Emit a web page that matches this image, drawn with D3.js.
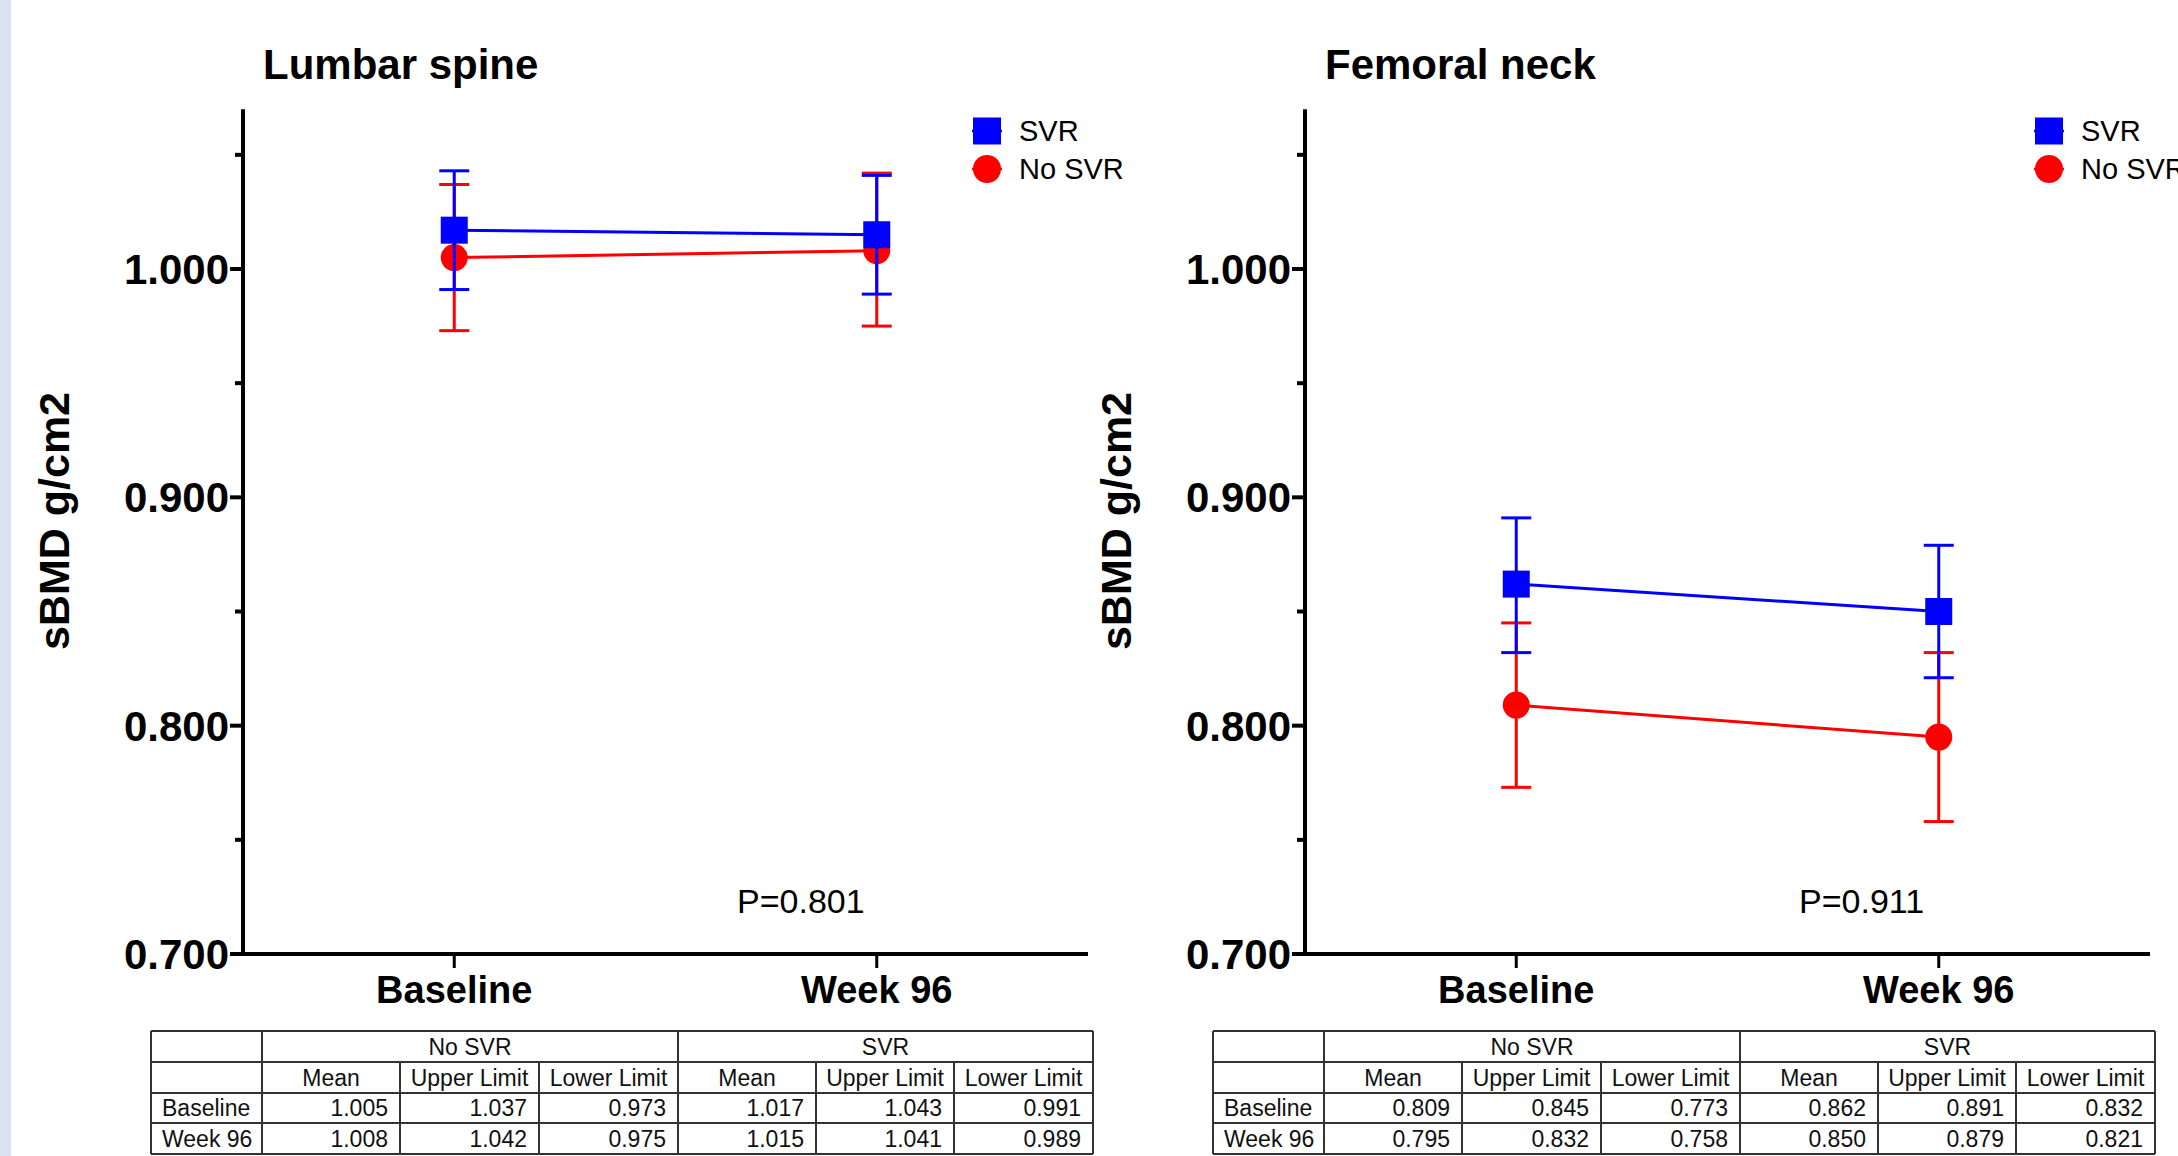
<!DOCTYPE html>
<html>
<head>
<meta charset="utf-8">
<script src="https://cdn.jsdelivr.net/npm/d3@7"></script>
<style>
  body { margin: 0; background: #fff; }
  svg { display: block; font-family: "Liberation Sans", Arial, sans-serif; }
</style>
</head>
<body>
<svg id="chart" width="2178" height="1156"></svg>
<script>
// data
const timepoints = ["Baseline", "Week 96"];
const panelTitles = ["Lumbar spine", "Femoral neck"];
const pValues = ["P=0.801", "P=0.911"];
const seriesNames = ["SVR", "No SVR"];

const spineNoSvrMean = [1.005, 1.008];
const spineNoSvrUpper = [1.037, 1.042];
const spineNoSvrLower = [0.973, 0.975];
const spineSvrMean = [1.017, 1.015];
const spineSvrUpper = [1.043, 1.041];
const spineSvrLower = [0.991, 0.989];

const neckNoSvrMean = [0.809, 0.795];
const neckNoSvrUpper = [0.845, 0.832];
const neckNoSvrLower = [0.773, 0.758];
const neckSvrMean = [0.862, 0.850];
const neckSvrUpper = [0.891, 0.879];
const neckSvrLower = [0.832, 0.821];

const majorTicks = [0.7, 0.8, 0.9, 1.0];
const minorTicks = [0.75, 0.85, 0.95, 1.05];
const tableHeads = ["Mean", "Upper Limit", "Lower Limit"];

const panels = [
	{ noSvr: [spineNoSvrMean, spineNoSvrUpper, spineNoSvrLower], svr: [spineSvrMean, spineSvrUpper, spineSvrLower] },
	{ noSvr: [neckNoSvrMean, neckNoSvrUpper, neckNoSvrLower], svr: [neckSvrMean, neckSvrUpper, neckSvrLower] }
];

const BLUE = "#0000ff", RED = "#ff0000";
const svg = d3.select("#chart");

svg.append("rect").attr("x", 0).attr("y", 0).attr("width", 11).attr("height", 1156).attr("fill", "#dbe3f3");

// scales shared by both panels (local coords of a panel)
const y = d3.scaleLinear().domain([0.7, 1.0]).range([954, 269]);
const x = d3.scalePoint().domain(timepoints).range([243, 1088]).padding(0.5);
const yTop = 1.07;
const fmt = d3.format(".3f");

const offsets = [0, 1062];

panels.forEach((p, pi) => {
	const g = svg.append("g").attr("transform", `translate(${offsets[pi]},0)`);

	g.append("text")
		.attr("x", 263).attr("y", 79)
		.attr("font-size", 42).attr("font-weight", "bold")
		.text(panelTitles[pi]);

	// y axis
	const yAxis = g.append("g").attr("transform", "translate(243,0)");
	yAxis.append("line")
		.attr("y1", y(yTop)).attr("y2", y(0.7) + 2)
		.attr("stroke", "#000").attr("stroke-width", 4);
	yAxis.selectAll(".major")
		.data(majorTicks).join("line")
		.attr("x1", -13).attr("x2", 0)
		.attr("y1", d => y(d)).attr("y2", d => y(d))
		.attr("stroke", "#000").attr("stroke-width", 4);
	yAxis.selectAll(".minor")
		.data(minorTicks).join("line")
		.attr("x1", -8).attr("x2", 0)
		.attr("y1", d => y(d)).attr("y2", d => y(d))
		.attr("stroke", "#000").attr("stroke-width", 4);
	yAxis.selectAll(".lbl")
		.data(majorTicks).join("text")
		.attr("x", -14).attr("y", d => y(d)).attr("dy", "0.36em")
		.attr("text-anchor", "end")
		.attr("font-size", 42).attr("font-weight", "bold")
		.text(d => fmt(d));

	g.append("text")
		.attr("transform", "translate(69,521) rotate(-90)")
		.attr("text-anchor", "middle")
		.attr("font-size", 43).attr("font-weight", "bold")
		.text("sBMD g/cm2");

	// x axis
	const xAxis = g.append("g").attr("transform", `translate(0,${y(0.7)})`);
	xAxis.append("line")
		.attr("x1", 241).attr("x2", 1088)
		.attr("stroke", "#000").attr("stroke-width", 4);
	xAxis.selectAll(".tick")
		.data(timepoints).join("line")
		.attr("x1", d => x(d)).attr("x2", d => x(d))
		.attr("y1", 0).attr("y2", 14)
		.attr("stroke", "#000").attr("stroke-width", 3);
	xAxis.selectAll(".lbl")
		.data(timepoints).join("text")
		.attr("x", d => x(d)).attr("y", 49)
		.attr("text-anchor", "middle")
		.attr("font-size", 38).attr("font-weight", "bold")
		.text(d => d);

	// series: red first, blue on top
	const series = [
		{ vals: p.noSvr, color: RED, shape: "circle" },
		{ vals: p.svr, color: BLUE, shape: "square" }
	];
	series.forEach(s => {
		const [mean, up, lo] = s.vals;
		const sg = g.append("g");
		const pts = timepoints.map((t, i) => ({ t, m: mean[i], u: up[i], l: lo[i] }));
		sg.selectAll(".eb").data(pts).join("line")
			.attr("x1", d => x(d.t)).attr("x2", d => x(d.t))
			.attr("y1", d => y(d.u)).attr("y2", d => y(d.l))
			.attr("stroke", s.color).attr("stroke-width", 3);
		sg.selectAll(".capU").data(pts).join("line")
			.attr("x1", d => x(d.t) - 15).attr("x2", d => x(d.t) + 15)
			.attr("y1", d => y(d.u)).attr("y2", d => y(d.u))
			.attr("stroke", s.color).attr("stroke-width", 3);
		sg.selectAll(".capL").data(pts).join("line")
			.attr("x1", d => x(d.t) - 15).attr("x2", d => x(d.t) + 15)
			.attr("y1", d => y(d.l)).attr("y2", d => y(d.l))
			.attr("stroke", s.color).attr("stroke-width", 3);
		sg.append("path")
			.datum(pts)
			.attr("d", d3.line().x(d => x(d.t)).y(d => y(d.m)))
			.attr("fill", "none").attr("stroke", s.color).attr("stroke-width", 3);
		if (s.shape === "square") {
			sg.selectAll(".mk").data(pts).join("rect")
				.attr("x", d => x(d.t) - 13.5).attr("y", d => y(d.m) - 13.5)
				.attr("width", 27).attr("height", 27)
				.attr("fill", s.color);
		} else {
			sg.selectAll(".mk").data(pts).join("circle")
				.attr("cx", d => x(d.t)).attr("cy", d => y(d.m))
				.attr("r", 13.5)
				.attr("fill", s.color);
		}
	});

	// legend
	const lg = g.append("g").attr("transform", "translate(987,131)");
	seriesNames.forEach((name, i) => {
		const ly = i * 38;
		const col = i === 0 ? BLUE : RED;
		lg.append("line")
			.attr("x1", -15).attr("x2", 15).attr("y1", ly).attr("y2", ly)
			.attr("stroke", col).attr("stroke-width", 2.5);
		if (i === 0) {
			lg.append("rect").attr("x", -14).attr("y", ly - 13.5).attr("width", 28).attr("height", 27).attr("fill", col);
		} else {
			lg.append("circle").attr("cx", 0).attr("cy", ly).attr("r", 14).attr("fill", col);
		}
		lg.append("text")
			.attr("x", 32).attr("y", ly).attr("dy", "0.36em")
			.attr("font-size", 29)
			.text(name);
	});

	g.append("text")
		.attr("x", 737).attr("y", 913)
		.attr("font-size", 34)
		.text(pValues[pi]);

	// table
	const cols = [151, 262, 400, 539, 678, 816, 954, 1093];
	const rows = [1031, 1062, 1093, 1123, 1154];
	const tg = g.append("g");
	const lineCol = "#333";
	tg.selectAll(".hl").data(rows).join("line")
		.attr("x1", cols[0]).attr("x2", cols[7])
		.attr("y1", d => d).attr("y2", d => d)
		.attr("stroke", lineCol).attr("stroke-width", 2);
	// full-height verticals
	tg.selectAll(".vf").data([cols[0], cols[1], cols[4], cols[7]]).join("line")
		.attr("x1", d => d).attr("x2", d => d)
		.attr("y1", rows[0]).attr("y2", rows[4])
		.attr("stroke", lineCol).attr("stroke-width", 2);
	// verticals below group header row
	tg.selectAll(".vp").data([cols[2], cols[3], cols[5], cols[6]]).join("line")
		.attr("x1", d => d).attr("x2", d => d)
		.attr("y1", rows[1]).attr("y2", rows[4])
		.attr("stroke", lineCol).attr("stroke-width", 2);

	const rowMid = i => (rows[i] + rows[i + 1]) / 2;
	const cellText = (xx, yy, anchor, txt) => tg.append("text")
		.attr("x", xx).attr("y", yy).attr("dy", "0.36em")
		.attr("text-anchor", anchor)
		.attr("font-size", 23).attr("fill", "#111")
		.text(txt);

	cellText((cols[1] + cols[4]) / 2, rowMid(0), "middle", "No SVR");
	cellText((cols[4] + cols[7]) / 2, rowMid(0), "middle", "SVR");
	for (let c = 0; c < 6; c++) {
		cellText((cols[c + 1] + cols[c + 2]) / 2, rowMid(1), "middle", tableHeads[c % 3]);
	}
	timepoints.forEach((t, r) => {
		cellText(cols[0] + 11, rowMid(r + 2), "start", t);
		const vals = [p.noSvr[0][r], p.noSvr[1][r], p.noSvr[2][r], p.svr[0][r], p.svr[1][r], p.svr[2][r]];
		vals.forEach((v, c) => cellText(cols[c + 2] - 12, rowMid(r + 2), "end", fmt(v)));
	});
});
</script>
</body>
</html>
